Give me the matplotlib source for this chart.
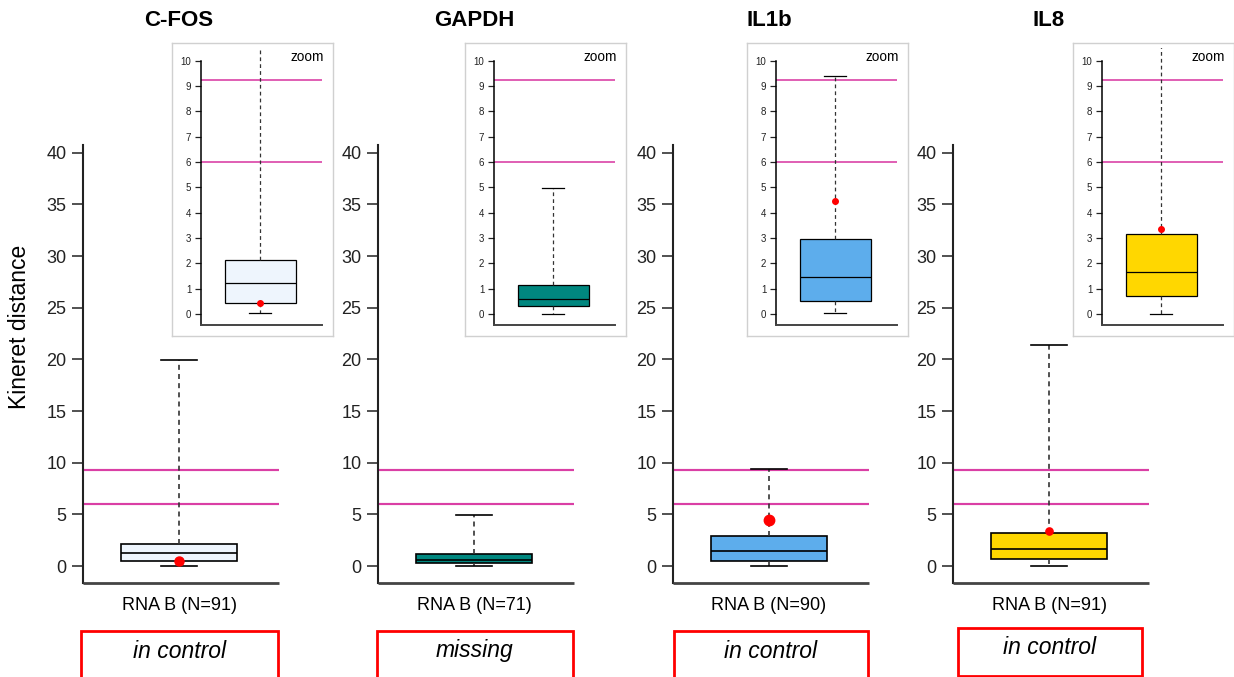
#!/usr/bin/env python3
"""Kineret distance boxplots per gene, with zoomed insets"""
import matplotlib.pyplot as plt
from matplotlib.patches import Rectangle

plt.rcParams['font.family'] = ['Liberation Sans', 'DejaVu Sans']

# data
genes = ['C-FOS', 'GAPDH', 'IL1b', 'IL8']
n_samples = [91, 71, 90, 91]
status = ['in control', 'missing', 'in control', 'in control']
whisker_low = [0.03, 0.0, 0.03, 0.0]
q1 = [0.45, 0.3, 0.52, 0.7]
median = [1.22, 0.6, 1.45, 1.65]
q3 = [2.15, 1.15, 2.95, 3.15]
whisker_high = [19.9, 4.97, 9.4, 21.4]
means = [0.45, None, 4.47, 3.35]
limits = [6.0, 9.25]
main_ticks = list(range(0, 41, 5))
inset_ticks = list(range(0, 11))

box_colors = ['#EEF5FD', '#00877F', '#5DADEC', '#FFD700']
mean_sizes = [6.5, 0, 7.5, 5.2]
LIMIT_COLOR = '#DA3FA5'

W, H = 1234, 677


def px(x0, y0, x1, y1):
    """pixel box (top-left origin) -> figure fraction rect"""
    return [x0 / W, 1 - y1 / H, (x1 - x0) / W, (y1 - y0) / H]


main_left = [83, 378, 673, 953]
frame_left = [172, 465, 747, 1073]
red_box = [(81, 631, 278, 700), (377, 631, 573, 700), (674, 631, 868, 700), (958, 628, 1142, 676)]
red_text_y = [651, 651, 651, 648]


def draw_box(ax, i, mean_size, lw):
    stats = [dict(whislo=whisker_low[i], q1=q1[i], med=median[i], q3=q3[i],
                  whishi=whisker_high[i], fliers=[])]
    ax.bxp(stats, positions=[0], widths=0.59, capwidths=0.18, patch_artist=True,
           showfliers=False,
           boxprops=dict(facecolor=box_colors[i], edgecolor='black', linewidth=lw),
           medianprops=dict(color='black', linewidth=lw),
           whiskerprops=dict(color='#333333', linewidth=lw, linestyle=(0, (3, 2.5))),
           capprops=dict(color='black', linewidth=lw))
    for y in limits:
        ax.axhline(y, color=LIMIT_COLOR, linewidth=lw * 1.3, zorder=1)
    if means[i] is not None:
        ax.plot([0], [means[i]], 'o', color='red', markersize=mean_size, zorder=5)
    ax.set_xlim(-0.49, 0.51)
    ax.set_xticks([])
    for s in ('top', 'right'):
        ax.spines[s].set_visible(False)


fig = plt.figure(figsize=(W / 100, H / 100), dpi=100)

for i, gene in enumerate(genes):
    x0 = main_left[i]
    ax = fig.add_axes(px(x0, 145, x0 + 196, 583))
    draw_box(ax, i, mean_sizes[i], 1.2)
    ax.set_ylim(-1.645, 40.75)
    ax.set_yticks(main_ticks)
    ax.tick_params(axis='y', labelsize=13, length=8, width=1.1, pad=4, colors='#222222')
    ax.spines['left'].set_linewidth(1.5)
    ax.spines['left'].set_color('#222222')
    ax.spines['bottom'].set_linewidth(2)
    ax.spines['bottom'].set_color('#444444')
    ax.spines['bottom'].set_capstyle('butt')

    cx = x0 + 96
    fig.text(cx / W, 1 - 20 / H, gene, ha='center', va='center', fontsize=16, fontweight='bold')
    fig.text(cx / W, 1 - 605 / H, f'RNA B (N={n_samples[i]})', ha='center', va='center', fontsize=13)

    bx0, by0, bx1, by1 = red_box[i]
    fig.add_artist(Rectangle((bx0 / W, 1 - by1 / H), (bx1 - bx0) / W, (by1 - by0) / H,
                             transform=fig.transFigure, fill=False, edgecolor='red', linewidth=2))
    fig.text((bx0 + bx1) / 2 / W, 1 - red_text_y[i] / H, status[i], ha='center', va='center',
             fontsize=16.5, style='italic')

    # zoom inset
    fx = frame_left[i]
    frame = fig.add_axes(px(fx, 43, fx + 161, 336))
    frame.set_xticks([])
    frame.set_yticks([])
    for s in frame.spines.values():
        s.set_color('#D0D0D0')
        s.set_linewidth(1)
    frame.text(0.945, 0.975, 'zoom', transform=frame.transAxes, ha='right', va='top', fontsize=9.8)

    ix = fx + 29
    ins = fig.add_axes(px(ix, 48, ix + 121, 325))
    ins.patch.set_alpha(0)
    draw_box(ins, i, 4, 0.9)
    ins.set_ylim(-0.434, 10.5)
    ins.set_yticks(inset_ticks)
    ins.spines['left'].set_bounds(-0.434, 10)
    ins.spines['left'].set_linewidth(1.1)
    ins.spines['bottom'].set_linewidth(1.4)
    ins.spines['bottom'].set_color('#444444')
    ins.tick_params(axis='y', labelsize=7, length=4, width=0.9, pad=3, colors='#222222')

fig.text(20 / W, 1 - 327 / H, 'Kineret distance', rotation=90, ha='center', va='center', fontsize=16.5)

plt.savefig('out.png', dpi=100)
